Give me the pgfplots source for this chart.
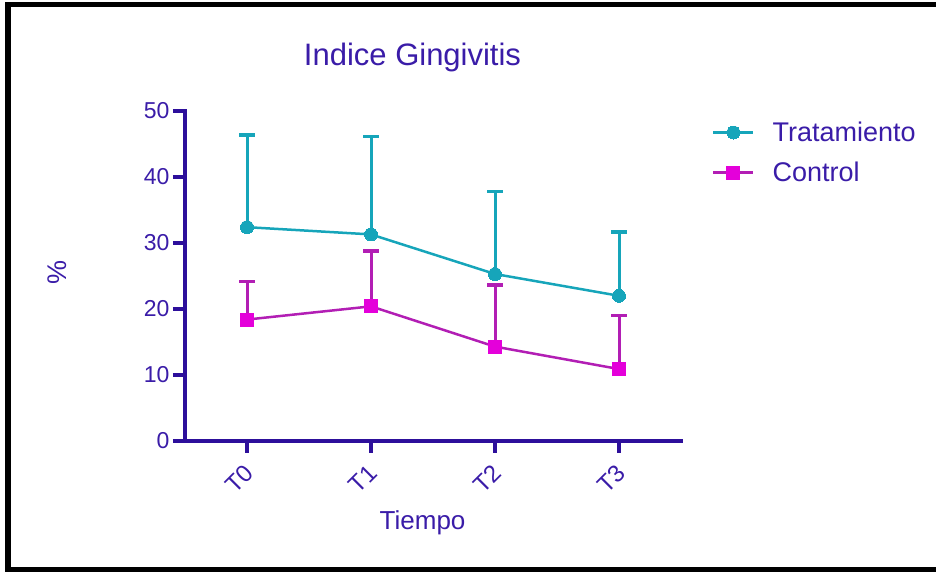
\documentclass[border=0pt]{standalone}
\usepackage{fontspec}
\setmainfont{Liberation Sans}
\usepackage{pgfplots}
\usepackage{pgfplotstable}
\pgfplotsset{compat=1.18}
\definecolor{axc}{RGB}{45,15,155}
\definecolor{txc}{RGB}{58,28,168}
\definecolor{teal1}{RGB}{22,165,186}
\definecolor{magl}{RGB}{178,30,180}
\definecolor{magm}{RGB}{228,0,218}

\pgfplotstableread{
x y e
0 32.4 14.0
1 31.3 14.8
2 25.3 12.5
3 22.0 9.7
}\trat
\pgfplotstableread{
x y e
0 18.4 5.8
1 20.4 8.4
2 14.3 9.3
3 10.9 8.1
}\ctrl

\begin{document}
\begin{tikzpicture}[x=1pt,y=1pt]
\useasboundingbox (0,0) rectangle (936,572);
\draw[line width=5.5pt] (960,567.5) -- (8,567.5) -- (8,2.5) -- (960,2.5);
\begin{axis}[
  at={(185pt,131pt)}, anchor=south west,
  scale only axis, width=496pt, height=330pt,
  xmin=-0.5, xmax=3.5, ymin=0, ymax=50,
  clip=false,
  axis lines=left,
  axis line style={-, line width=4pt, color=axc, line cap=rect},
  xtick={0,1,2,3}, xticklabels={T0,T1,T2,T3},
  ytick={0,10,...,50},
  tick align=outside, major tick length=12pt,
  every tick/.style={line width=3.5pt, color=axc},
  tick label style={font=\fontsize{23}{23}\selectfont, text=txc},
  xticklabel style={xshift=-4pt, yshift=-5pt, rotate=45, anchor=north east, font=\fontsize{24}{24}\selectfont},
  /pgf/number format/assume math mode=true,
  title={Indice Gingivitis},
  title style={at={(axis description cs:0.4587,1.121)}, anchor=base, font=\fontsize{31}{31}\selectfont, text=txc, inner sep=0pt},
  xlabel={Tiempo},
  xlabel style={at={(axis description cs:0.479,-0.2697)}, anchor=base, font=\fontsize{26}{26}\selectfont, text=txc, inner sep=0pt},
  ylabel={\%},
  ylabel style={at={(axis description cs:-0.258,0.512)}, anchor=center, font=\fontsize{27}{27}\selectfont, text=txc, inner sep=0pt},
  legend style={draw=none, fill=none, at={(axis description cs:1.0625,0.874)}, anchor=west,
    font=\fontsize{27}{27}\selectfont, text=txc, row sep=15pt, inner sep=0pt,
    nodes={inner sep=2pt},
    /tikz/every odd column/.append style={column sep=16pt}},
  legend cell align=left,
  legend image code/.code={\draw[mark repeat=2,mark phase=2,#1] plot coordinates {(0pt,0pt)(20pt,0pt)(40pt,0pt)};},
]
\addplot[teal1, line width=2.5pt, mark=*, mark size=6.5pt, mark options={solid, fill=teal1, draw=teal1, line width=0pt},
  error bars/.cd, y dir=plus, y explicit,
  error bar style={line width=3pt, teal1},
  error mark options={line width=3.5pt, mark size=8pt, teal1, rotate=90}]
  table[x=x, y=y, y error=e] {\trat};
\addlegendentry{Tratamiento}
\addplot[magl, line width=2.5pt, mark=square*, mark size=6.5pt, mark options={solid, fill=magm, draw=magm, line width=0pt},
  error bars/.cd, y dir=plus, y explicit,
  error bar style={line width=3pt, magl},
  error mark options={line width=3.5pt, mark size=8pt, magl, rotate=90}]
  table[x=x, y=y, y error=e] {\ctrl};
\addlegendentry{Control}
\end{axis}
\end{tikzpicture}
\end{document}
